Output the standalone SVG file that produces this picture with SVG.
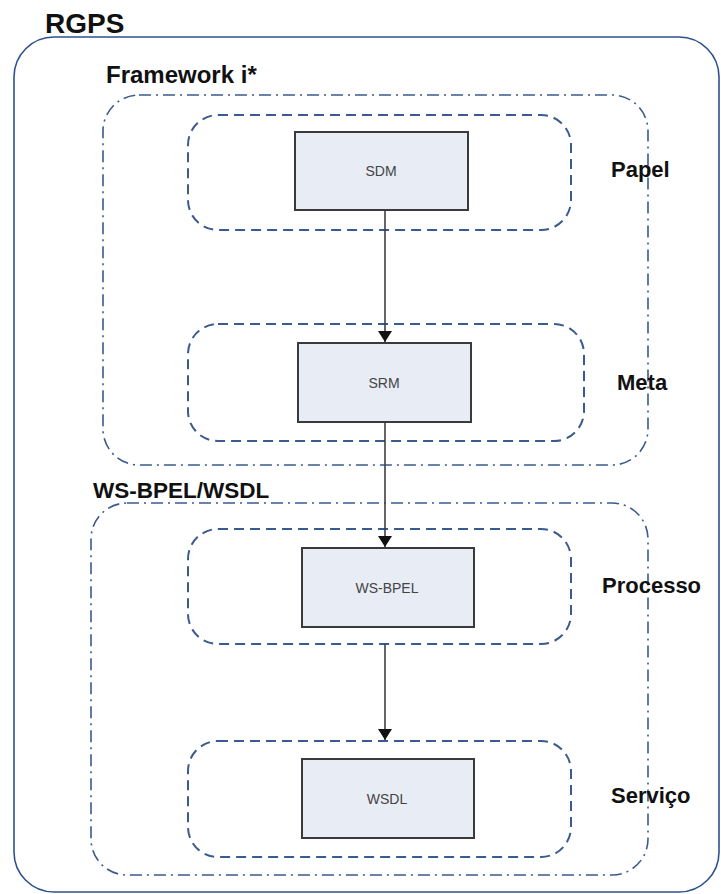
<svg xmlns="http://www.w3.org/2000/svg" width="721" height="894" viewBox="0 0 721 894">
<defs>
<style>
.lbl{font-family:"Liberation Sans",Arial,sans-serif;font-weight:bold;fill:#111;}
.btxt{font-family:"Liberation Sans",Arial,sans-serif;font-size:14px;fill:#444;text-anchor:middle;}
.dash{fill:none;stroke:#3B5A8E;stroke-width:2;stroke-dasharray:10 6;}
.dashdot{fill:none;stroke:#3B5A8E;stroke-width:1.6;stroke-dasharray:12 5 2 5;}
.box{fill:#E8ECF4;stroke:#3a3a3a;stroke-width:2;}
.conn{stroke:#404040;stroke-width:1.6;fill:none;}
</style>
<marker id="arr" viewBox="0 0 11 14" refX="11" refY="7" markerWidth="11" markerHeight="14" markerUnits="userSpaceOnUse" orient="auto">
<path d="M0,0 L11,7 L0,14 z" fill="#111"/>
</marker>
</defs>
<g id="rgps">
<rect x="14" y="37" width="705" height="855" rx="40" ry="40" fill="none" stroke="#2F528F" stroke-width="1.6"/>
<text class="lbl" x="45" y="33" font-size="28">RGPS</text>
</g>
<g id="framework">
<rect class="dashdot" x="103" y="95" width="545" height="370" rx="36" ry="36"/>
<text class="lbl" x="106" y="83" font-size="24">Framework i*</text>
</g>
<g id="wsbpel-wsdl">
<rect class="dashdot" x="91" y="503" width="557" height="372" rx="36" ry="36"/>
<text class="lbl" x="93" y="498" font-size="22.5">WS-BPEL/WSDL</text>
</g>
<g id="papel">
<rect class="dash" x="188" y="115" width="383" height="115" rx="30" ry="30"/>
<text class="lbl" x="611" y="177" font-size="22">Papel</text>
</g>
<g id="meta">
<rect class="dash" x="188" y="324" width="396" height="117" rx="30" ry="30"/>
<text class="lbl" x="617" y="390" font-size="22">Meta</text>
</g>
<g id="processo">
<rect class="dash" x="188" y="529" width="383" height="115" rx="30" ry="30"/>
<text class="lbl" x="602" y="593" font-size="22">Processo</text>
</g>
<g id="servico">
<rect class="dash" x="188" y="741" width="383" height="116" rx="30" ry="30"/>
<text class="lbl" x="611" y="803" font-size="22">Serviço</text>
</g>
<g id="sdm">
<rect class="box" x="295" y="132" width="173" height="78"/>
<text class="btxt" x="381" y="176">SDM</text>
</g>
<g id="srm">
<rect class="box" x="298" y="343" width="173" height="79"/>
<text class="btxt" x="384" y="388">SRM</text>
</g>
<g id="ws-bpel">
<rect class="box" x="302" y="548" width="172" height="79"/>
<text class="btxt" x="387" y="593">WS-BPEL</text>
</g>
<g id="wsdl">
<rect class="box" x="302" y="759" width="172" height="79"/>
<text class="btxt" x="387" y="804">WSDL</text>
</g>
<g id="connectors">
<line class="conn" x1="385" y1="211" x2="385" y2="342" marker-end="url(#arr)"/>
<line class="conn" x1="385" y1="423" x2="385" y2="547" marker-end="url(#arr)"/>
<line class="conn" x1="385" y1="644" x2="385" y2="740" marker-end="url(#arr)"/>
</g>
</svg>
